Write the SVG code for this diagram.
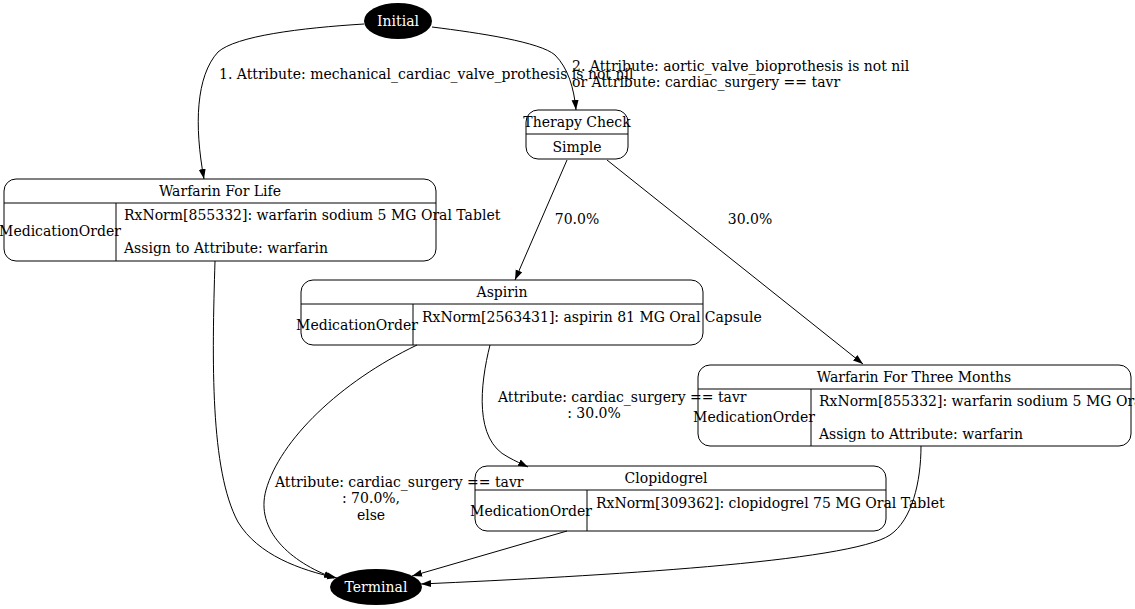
<svg xmlns="http://www.w3.org/2000/svg" width="1135" height="609" viewBox="0 0 1135 609">
<style>
text{font-family:"DejaVu Serif","Liberation Serif",serif;font-size:14px;fill:#000}
.c{text-anchor:middle}
.w{fill:#fff}
.box{fill:none;stroke:#000;stroke-width:1}
.e{fill:none;stroke:#000;stroke-width:1}
</style>
<defs>
<marker id="a" viewBox="0 0 10 10" refX="10" refY="5" markerWidth="10" markerHeight="10" markerUnits="userSpaceOnUse" orient="auto">
<path d="M0,1.5 L10,5 L0,8.5 Z" fill="#000"/>
</marker>
</defs>
<rect width="1135" height="609" fill="#fff"/>
<g id="connectors">
<path class="e" marker-end="url(#a)" d="M364,24 C300,28 236,36 218,52 C196,76 194,125 204,179"/>
<path class="e" marker-end="url(#a)" d="M432,27 C480,33 540,42 555,55 C568,68 574,88 576,110"/>
<path class="e" marker-end="url(#a)" d="M567,160 L515,280"/>
<path class="e" marker-end="url(#a)" d="M607,160 L863,364"/>
<path class="e" marker-end="url(#a)" d="M215,261 C212,360 210,470 238,522 C258,555 300,570 337,578"/>
<path class="e" marker-end="url(#a)" d="M490,345 C480,385 474,440 508,457 C515,461 522,464 528,467"/>
<path class="e" marker-end="url(#a)" d="M417,345 C340,382 280,440 266,490 C255,530 290,562 334,578"/>
<path class="e" marker-end="url(#a)" d="M567,531 L412,576"/>
<path class="e" marker-end="url(#a)" d="M921,446 C921,482 912,520 890,535 C850,562 600,576 421,584"/>
<text x="219" y="79">1. Attribute: mechanical_cardiac_valve_prothesis is not nil</text>
<text x="572" y="71">2. Attribute: aortic_valve_bioprothesis is not nil</text>
<text x="572" y="87">or Attribute: cardiac_surgery == tavr</text>
<text x="577" y="224" class="c">70.0%</text>
<text x="750" y="224" class="c">30.0%</text>
<text x="498" y="402">Attribute: cardiac_surgery == tavr</text>
<text x="594" y="418" class="c">: 30.0%</text>
<text x="275" y="487">Attribute: cardiac_surgery == tavr</text>
<text x="371" y="503" class="c">: 70.0%,</text>
<text x="371" y="520" class="c">else</text>
</g>
<g id="initial">
<ellipse cx="398" cy="21" rx="34" ry="18" fill="#000"/>
<text x="398" y="26" class="c w">Initial</text>
</g>
<g id="therapy-check">
<rect x="526" y="110" width="102" height="49" rx="12" class="box"/>
<line x1="526" y1="134" x2="628" y2="134" stroke="#000"/>
<text x="577" y="127" class="c">Therapy Check</text>
<text x="577" y="152" class="c">Simple</text>
</g>
<g id="warfarin-for-life">
<rect x="4" y="179" width="432" height="82" rx="12" class="box"/>
<line x1="4" y1="203" x2="436" y2="203" stroke="#000"/>
<line x1="116" y1="203" x2="116" y2="261" stroke="#000"/>
<text x="220" y="196" class="c">Warfarin For Life</text>
<text x="60" y="236" class="c">MedicationOrder</text>
<text x="124" y="220">RxNorm[855332]: warfarin sodium 5 MG Oral Tablet</text>
<text x="124" y="253">Assign to Attribute: warfarin</text>
</g>
<g id="aspirin">
<rect x="301" y="280" width="402" height="65" rx="12" class="box"/>
<line x1="301" y1="304" x2="703" y2="304" stroke="#000"/>
<line x1="413" y1="304" x2="413" y2="345" stroke="#000"/>
<text x="502" y="297" class="c">Aspirin</text>
<text x="357" y="330" class="c">MedicationOrder</text>
<text x="422" y="322">RxNorm[2563431]: aspirin 81 MG Oral Capsule</text>
</g>
<g id="warfarin-three-months">
<rect x="698" y="365" width="433" height="81" rx="12" class="box"/>
<line x1="698" y1="389" x2="1131" y2="389" stroke="#000"/>
<line x1="811" y1="389" x2="811" y2="446" stroke="#000"/>
<text x="914" y="382" class="c">Warfarin For Three Months</text>
<text x="754" y="422" class="c">MedicationOrder</text>
<text x="819" y="406">RxNorm[855332]: warfarin sodium 5 MG Oral Tablet</text>
<text x="819" y="439">Assign to Attribute: warfarin</text>
</g>
<g id="clopidogrel">
<rect x="475" y="466" width="411" height="65" rx="12" class="box"/>
<line x1="475" y1="490" x2="886" y2="490" stroke="#000"/>
<line x1="587" y1="490" x2="587" y2="531" stroke="#000"/>
<text x="666" y="483" class="c">Clopidogrel</text>
<text x="531" y="516" class="c">MedicationOrder</text>
<text x="596" y="508">RxNorm[309362]: clopidogrel 75 MG Oral Tablet</text>
</g>
<g id="terminal">
<ellipse cx="376" cy="587" rx="46" ry="18" fill="#000"/>
<text x="376" y="592" class="c w">Terminal</text>
</g>
</svg>
